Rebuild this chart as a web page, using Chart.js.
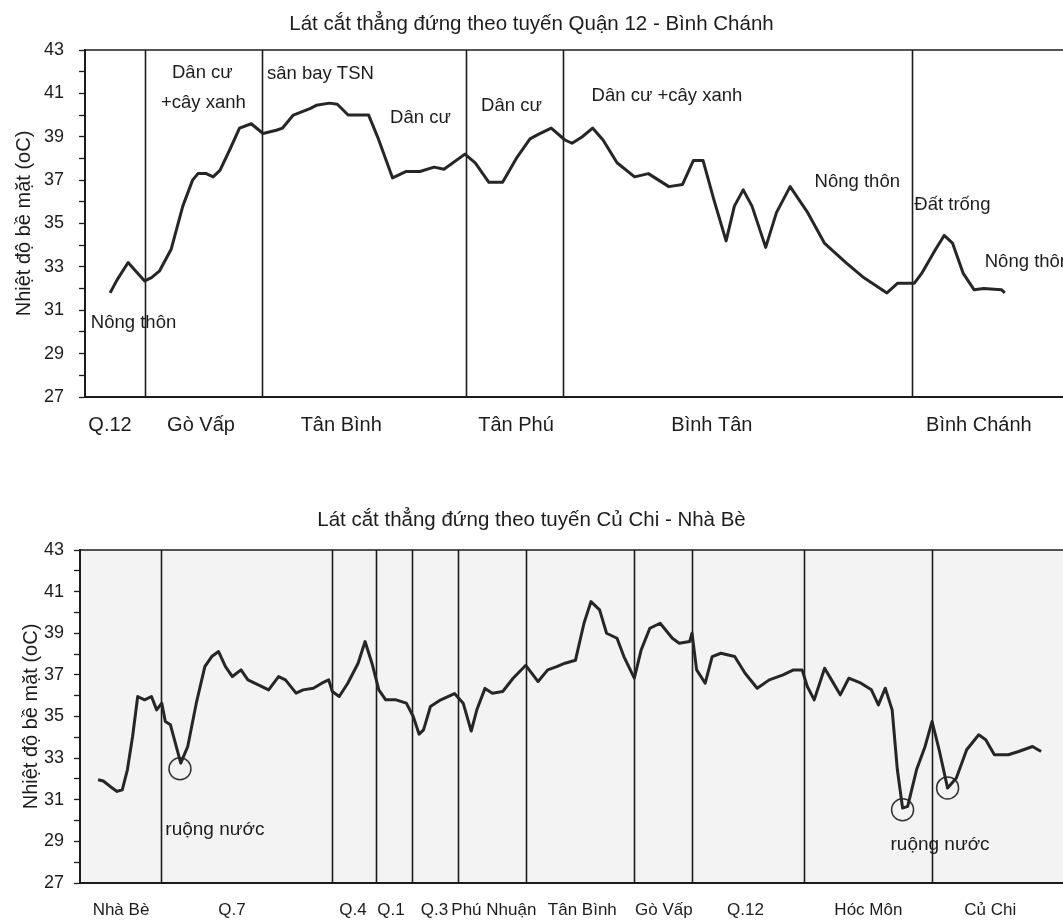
<!DOCTYPE html>
<html>
<head>
<meta charset="utf-8">
<script src="https://cdn.jsdelivr.net/npm/chart.js@4.4.1/dist/chart.umd.min.js"></script>
<style>
  body { margin: 0; background: #fff; }
  #wrap { position: relative; width: 1063px; height: 923px; overflow: hidden; }
  canvas { position: absolute; left: 0; }
  #topChart { top: 0; }
  #bottomChart { top: 460px; }
</style>
</head>
<body>
<div id="wrap">
  <canvas id="topChart" width="1063" height="460"></canvas>
  <canvas id="bottomChart" width="1063" height="463"></canvas>
</div>
<script>
// Lát cắt Quận 12 - Bình Chánh : [vị trí, nhiệt độ]
const topProfile = [
  [2.57, 31.8], [3.28, 32.4], [4.41, 33.2], [5.2, 32.8], [6.1, 32.35], [6.8, 32.5], [7.6, 32.8],
  [8.8, 33.8], [10.0, 35.8], [11.0, 37.0], [11.55, 37.3], [12.4, 37.3], [13.1, 37.15], [13.8, 37.45],
  [14.8, 38.4], [15.8, 39.4], [17.0, 39.6], [18.2, 39.15], [19.56, 39.3], [20.2, 39.4], [21.3, 40.0],
  [23.0, 40.3], [23.65, 40.45], [25.0, 40.55], [25.8, 40.5], [26.9, 40.0], [29.0, 40.0], [30.0, 38.9],
  [31.45, 37.1], [32.85, 37.4], [34.25, 37.4], [35.7, 37.6], [36.7, 37.5], [38.85, 38.2], [39.9, 37.8],
  [41.3, 36.9], [42.7, 36.9], [44.1, 38.0], [45.5, 38.9], [46.3, 39.1], [47.67, 39.4], [49.08, 38.85],
  [49.8, 38.7], [50.85, 39.0], [51.9, 39.4], [52.97, 38.85], [54.4, 37.8], [56.2, 37.15], [57.6, 37.3],
  [59.7, 36.7], [61.1, 36.8], [62.2, 37.9], [63.2, 37.9], [64.3, 36.1], [65.55, 34.2], [66.4, 35.8],
  [67.3, 36.55], [68.2, 35.8], [69.6, 33.9], [70.7, 35.5], [72.1, 36.7], [73.9, 35.5], [75.6, 34.1],
  [77.8, 33.2], [79.5, 32.55], [82.0, 31.8], [83.1, 32.25], [84.8, 32.25], [85.55, 32.7], [86.96, 33.8],
  [87.85, 34.45], [88.7, 34.1], [89.8, 32.7], [90.9, 31.95], [91.9, 32.0], [93.7, 31.95], [94.05, 31.8]
];

// Lát cắt Củ Chi - Nhà Bè : [vị trí, nhiệt độ]
const bottomProfile = [
  [1.84, 31.96], [2.37, 31.9], [3.07, 31.64], [3.77, 31.4], [4.3, 31.48], [4.82, 32.44], [5.35, 34.04],
  [5.87, 35.96], [6.57, 35.8], [7.27, 35.96], [7.8, 35.32], [8.32, 35.64], [8.68, 34.76], [9.2, 34.6],
  [10.25, 32.76], [10.96, 33.56], [11.83, 35.64], [12.7, 37.4], [13.4, 37.88], [14.1, 38.12], [14.8, 37.4],
  [15.5, 36.92], [16.38, 37.24], [17.08, 36.76], [18.14, 36.52], [19.19, 36.28], [20.2, 36.92], [20.9, 36.76],
  [21.98, 36.12], [22.7, 36.28], [23.74, 36.36], [24.6, 36.6], [25.3, 36.76], [25.67, 36.2], [26.37, 35.96],
  [27.24, 36.6], [28.29, 37.56], [29.0, 38.6], [29.7, 37.56], [30.4, 36.28], [31.1, 35.8], [32.15, 35.8],
  [33.2, 35.64], [33.9, 35.0], [34.5, 34.15], [34.95, 34.36], [35.65, 35.48], [36.7, 35.8], [38.1, 36.1],
  [38.98, 35.64], [39.8, 34.3], [40.37, 35.32], [41.2, 36.35], [41.95, 36.12], [43.0, 36.2], [44.06, 36.84],
  [45.35, 37.46], [46.6, 36.68], [47.58, 37.24], [48.5, 37.4], [49.34, 37.56], [50.4, 37.7], [51.27, 39.48],
  [51.98, 40.52], [52.86, 40.12], [53.57, 39.0], [54.63, 38.76], [55.33, 37.88], [56.39, 36.84], [57.09, 38.2],
  [57.97, 39.24], [59.02, 39.48], [60.26, 38.76], [60.96, 38.52], [62.02, 38.6], [62.26, 39.0], [62.73, 37.24],
  [63.6, 36.6], [64.31, 37.88], [65.2, 38.04], [66.6, 37.88], [67.66, 37.08], [68.89, 36.36], [70.12, 36.76],
  [71.53, 37.0], [72.58, 37.24], [73.46, 37.24], [73.99, 36.44], [74.69, 35.8], [75.75, 37.32], [76.45, 36.76],
  [77.34, 36.04], [78.21, 36.84], [79.45, 36.6], [80.51, 36.28], [81.22, 35.56], [81.92, 36.36], [82.62, 35.32],
  [83.15, 32.44], [83.68, 30.6], [84.2, 30.68], [85.1, 32.44], [85.97, 33.56], [86.68, 34.76], [87.4, 33.4],
  [88.26, 31.56], [89.15, 32.04], [90.2, 33.4], [91.43, 34.12], [92.14, 33.88], [93.02, 33.16], [94.43, 33.16],
  [95.49, 33.32], [96.9, 33.56], [97.77, 33.32]
];

// ruộng nước được khoanh tròn
const bottomWetSpots = [[10.17, 32.49], [83.68, 30.52], [88.26, 31.57]];

const topDistricts = ['Q.12', 'Gò Vấp', 'Tân Bình', 'Tân Phú', 'Bình Tân', 'Bình Chánh'];
const topDistrictPos = [2.56, 11.86, 26.2, 44.07, 64.1, 91.4];
const topBoundaries = [6.13, 18.1, 38.96, 48.88, 84.56];

const bottomDistricts = ['Nhà Bè', 'Q.7', 'Q.4', 'Q.1', 'Q.3', 'Phú Nhuận', 'Tân Bình', 'Gò Vấp', 'Q.12', 'Hóc Môn', 'Củ Chi'];
const bottomDistrictPos = [4.17, 15.46, 27.77, 31.64, 36.07, 42.1, 51.1, 59.4, 67.7, 80.2, 92.6];
const bottomBoundaries = [8.29, 25.64, 30.11, 33.77, 38.5, 45.37, 56.31, 62.26, 73.65, 86.72];

const topNotes = [
  { text: 'Nông thôn', x: 0.6, y: 30.4, align: 'left' },
  { text: 'Dân cư', x: 12.0, y: 41.95, align: 'center' },
  { text: '+cây xanh', x: 12.1, y: 40.55, align: 'center' },
  { text: 'sân bay TSN', x: 18.6, y: 41.88, align: 'left' },
  { text: 'Dân cư', x: 34.3, y: 39.85, align: 'center' },
  { text: 'Dân cư', x: 43.6, y: 40.4, align: 'center' },
  { text: 'Dân cư +cây xanh', x: 51.8, y: 40.9, align: 'left' },
  { text: 'Nông thôn', x: 74.6, y: 36.93, align: 'left' },
  { text: 'Đất trống', x: 84.8, y: 35.85, align: 'left' },
  { text: 'Nông thôn', x: 92.0, y: 33.24, align: 'left' }
];
const bottomNotes = [
  { text: 'ruộng nước', x: 8.68, y: 29.56, align: 'left' },
  { text: 'ruộng nước', x: 82.45, y: 28.84, align: 'left' }
];

const yTitle = 'Nhiệt độ bề mặt (oC)';
const SANS = '"Liberation Sans", Arial, sans-serif';
const INK = '#1c1c1c';

const profileDecor = {
  id: 'profileDecor',
  beforeDraw(chart, args, opts) {
    const { ctx, chartArea: a } = chart;
    if (!opts.fill) return;
    ctx.save();
    ctx.fillStyle = opts.fill;
    ctx.fillRect(a.left, a.top, a.right - a.left, a.bottom - a.top);
    ctx.restore();
  },
  beforeDatasetsDraw(chart, args, opts) {
    const { ctx, chartArea: a, scales: { x } } = chart;
    ctx.save();
    ctx.strokeStyle = INK;
    ctx.lineWidth = 1.6;
    ctx.beginPath();
    ctx.moveTo(a.left, a.top);
    ctx.lineTo(a.right, a.top);
    (opts.boundaries || []).forEach(b => {
      const px = Math.round(x.getPixelForValue(b)) + 0.5;
      ctx.moveTo(px, a.top);
      ctx.lineTo(px, a.bottom);
    });
    ctx.stroke();
    ctx.restore();
  },
  afterDatasetsDraw(chart, args, opts) {
    const { ctx, scales: { x, y } } = chart;
    ctx.save();
    ctx.fillStyle = INK;
    ctx.font = opts.font || ('18px ' + SANS);
    ctx.textBaseline = 'middle';
    (opts.notes || []).forEach(n => {
      ctx.textAlign = n.align;
      ctx.fillText(n.text, x.getPixelForValue(n.x), y.getPixelForValue(n.y));
    });
    ctx.restore();
  }
};

function makeChart(id, cfg) {
  const lineSets = [{
    type: 'line',
    data: cfg.profile.map(([x, y]) => ({ x, y })),
    borderColor: '#262626',
    borderWidth: 3,
    borderJoinStyle: 'round',
    pointRadius: 0,
    tension: 0
  }];
  if (cfg.spots) {
    lineSets.push({
      type: 'scatter',
      data: cfg.spots.map(([x, y]) => ({ x, y })),
      showLine: false,
      pointRadius: 11,
      pointBorderWidth: 1.5,
      pointBorderColor: '#333',
      pointBackgroundColor: 'rgba(0,0,0,0)'
    });
  }
  return new Chart(document.getElementById(id), {
    type: 'line',
    data: { datasets: lineSets },
    plugins: [profileDecor],
    options: {
      responsive: false,
      animation: false,
      layout: { padding: 0, autoPadding: false },
      plugins: {
        legend: { display: false },
        tooltip: { enabled: false },
        title: {
          display: true,
          text: cfg.title,
          color: INK,
          font: { family: SANS, size: 20.5, weight: 'normal' },
          padding: cfg.titlePadding
        },
        profileDecor: { boundaries: cfg.boundaries, notes: cfg.notes, fill: cfg.fill, font: cfg.noteFont }
      },
      scales: {
        x: {
          type: 'linear',
          min: 0,
          max: 100,
          afterFit: s => { s.height = cfg.xHeight; s.paddingLeft = 0; s.paddingRight = 0; },
          afterBuildTicks: s => { s.ticks = cfg.placePos.map(v => ({ value: v })); },
          border: { display: true, color: INK, width: 2 },
          grid: { drawOnChartArea: false, drawTicks: false },
          ticks: {
            autoSkip: false,
            maxRotation: 0,
            padding: cfg.xPad,
            color: INK,
            font: cfg.xFont,
            callback: (v, i) => cfg.places[i]
          }
        },
        y: {
          min: 27,
          max: 43,
          afterFit: s => { s.width = cfg.yWidth; s.paddingTop = 0; s.paddingBottom = 0; },
          border: { display: true, color: INK, width: 2 },
          grid: { drawOnChartArea: false, drawTicks: true, tickLength: 6, color: INK, tickWidth: 1.3 },
          ticks: {
            stepSize: 1,
            autoSkip: false,
            padding: cfg.yPad,
            color: INK,
            font: { family: SANS, size: 18 },
            callback: v => (v % 2 === 1 ? String(v) : '')
          },
          title: {
            display: true,
            text: yTitle,
            color: INK,
            font: { family: SANS, size: 20 },
            padding: { top: cfg.yTitleGap, bottom: 0 }
          }
        }
      }
    }
  });
}

makeChart('topChart', {
  title: 'Lát cắt thẳng đứng theo tuyến Quận 12 - Bình Chánh',
  titlePadding: { top: 11.7, bottom: 13.7 },
  profile: topProfile,
  boundaries: topBoundaries,
  notes: topNotes,
  places: topDistricts,
  placePos: topDistrictPos,
  xHeight: 63,
  xPad: 16,
  xFont: { family: SANS, size: 20 },
  yWidth: 85,
  yPad: 15,
  yTitleGap: 12,
  noteFont: '18.5px ' + SANS
});

makeChart('bottomChart', {
  title: 'Lát cắt thẳng đứng theo tuyến Củ Chi - Nhà Bè',
  titlePadding: { top: 47.7, bottom: 17.7 },
  profile: bottomProfile,
  spots: bottomWetSpots,
  boundaries: bottomBoundaries,
  notes: bottomNotes,
  fill: '#f3f3f3',
  places: bottomDistricts,
  placePos: bottomDistrictPos,
  xHeight: 40,
  xPad: 17,
  xFont: { family: SANS, size: 17 },
  yWidth: 80,
  yPad: 10,
  yTitleGap: 19,
  noteFont: '19px ' + SANS
});
</script>
</body>
</html>
